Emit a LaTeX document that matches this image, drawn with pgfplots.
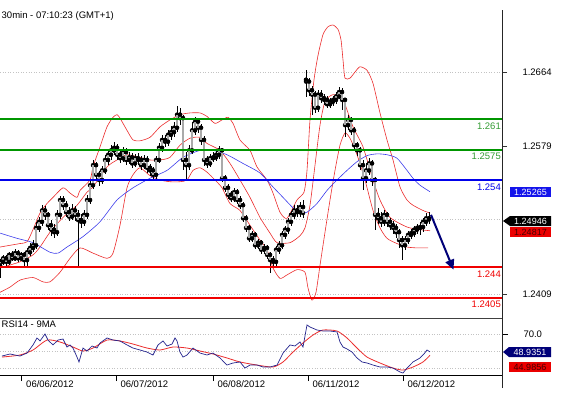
\documentclass[border=0pt]{standalone}
\usepackage{fontspec}
\setmainfont{Liberation Sans}
\usepackage{pgfplots}
\pgfplotsset{compat=1.18}
\usepackage{pgfplotstable}
\usetikzlibrary{arrows.meta}

\definecolor{lvlgreen}{RGB}{0,150,0}
\definecolor{lvltxtgreen}{RGB}{50,155,50}
\definecolor{lvlblue}{RGB}{0,0,235}
\definecolor{lvlred}{RGB}{240,0,0}
\definecolor{bandred}{RGB}{235,45,45}
\definecolor{mablue}{RGB}{60,60,235}
\definecolor{navy}{RGB}{0,0,120}
\definecolor{rsiblue}{RGB}{35,35,140}
\definecolor{barfill}{RGB}{170,170,170}
\definecolor{gridgray}{RGB}{195,195,195}
\definecolor{boxblue}{RGB}{20,20,235}
\definecolor{boxred}{RGB}{235,0,0}
\definecolor{darkred}{RGB}{70,0,0}

\newcommand{\lbl}{\fontsize{9.5}{11}\selectfont}
\newcommand{\blbl}{\fontsize{9}{10}\selectfont}

\pgfplotstableread{
x o h l c
0 1.2442 1.2449 1.2427 1.2446
3 1.2446 1.2454 1.2442 1.2450
6 1.2450 1.2454 1.2441 1.2446
9 1.2446 1.2457 1.2442 1.2454
12 1.2454 1.2458 1.2447 1.2450
15 1.2450 1.2461 1.2447 1.2456
18 1.2456 1.2460 1.2446 1.2450
21 1.2450 1.2457 1.2447 1.2454
24 1.2454 1.2457 1.2439 1.2448
27 1.2448 1.2462 1.2439 1.2457
30 1.2457 1.2468 1.2453 1.2462
33 1.2462 1.2471 1.2457 1.2465
36 1.2465 1.2492 1.2461 1.2485
39 1.2485 1.2498 1.2480 1.2492
42 1.2492 1.2511 1.2487 1.2505
45 1.2505 1.2510 1.2494 1.2500
48 1.2500 1.2503 1.2483 1.2488
51 1.2488 1.2494 1.2476 1.2483
54 1.2483 1.2489 1.2473 1.2480
57 1.2480 1.2505 1.2476 1.2500
60 1.2500 1.2522 1.2495 1.2517
63 1.2517 1.2522 1.2505 1.2511
66 1.2511 1.2516 1.2498 1.2503
69 1.2503 1.2509 1.2493 1.2498
72 1.2498 1.2512 1.2494 1.2505
75 1.2505 1.2510 1.2493 1.2500
78 1.2500 1.2505 1.2439 1.2494
81 1.2494 1.2501 1.2485 1.2492
84 1.2492 1.2505 1.2487 1.2500
87 1.2500 1.2523 1.2495 1.2517
90 1.2517 1.2540 1.2512 1.2534
93 1.2534 1.2563 1.2530 1.2557
96 1.2557 1.2561 1.2540 1.2546
99 1.2546 1.2550 1.2533 1.2540
102 1.2540 1.2556 1.2535 1.2551
105 1.2551 1.2569 1.2547 1.2563
108 1.2563 1.2574 1.2557 1.2569
111 1.2569 1.2580 1.2563 1.2574
114 1.2574 1.2584 1.2569 1.2577
117 1.2577 1.2581 1.2563 1.2569
120 1.2569 1.2574 1.2559 1.2565
123 1.2565 1.2578 1.2561 1.2572
126 1.2572 1.2577 1.2557 1.2563
129 1.2563 1.2572 1.2558 1.2566
132 1.2566 1.2571 1.2554 1.2559
135 1.2559 1.2570 1.2555 1.2565
138 1.2565 1.2571 1.2557 1.2563
141 1.2563 1.2568 1.2551 1.2557
144 1.2557 1.2569 1.2553 1.2563
147 1.2563 1.2568 1.2548 1.2554
150 1.2554 1.2558 1.2545 1.2551
153 1.2551 1.2555 1.2540 1.2546
156 1.2546 1.2568 1.2541 1.2563
159 1.2563 1.2582 1.2559 1.2577
162 1.2577 1.2592 1.2572 1.2586
165 1.2586 1.2592 1.2578 1.2584
168 1.2584 1.2597 1.2579 1.2592
171 1.2592 1.2602 1.2586 1.2595
174 1.2595 1.2607 1.2589 1.2600
177 1.2600 1.2625 1.2595 1.2615
180 1.2615 1.2623 1.2603 1.2611
183 1.2611 1.2615 1.2551 1.2563
186 1.2563 1.2572 1.2540 1.2557
189 1.2557 1.2580 1.2551 1.2574
192 1.2574 1.2607 1.2570 1.2597
195 1.2597 1.2612 1.2592 1.2607
198 1.2607 1.2611 1.2594 1.2600
201 1.2600 1.2604 1.2580 1.2586
204 1.2586 1.2590 1.2556 1.2563
207 1.2563 1.2568 1.2554 1.2559
210 1.2559 1.2570 1.2555 1.2565
213 1.2565 1.2572 1.2561 1.2566
216 1.2566 1.2574 1.2562 1.2569
219 1.2569 1.2579 1.2564 1.2574
222 1.2574 1.2577 1.2538 1.2542
225 1.2542 1.2546 1.2526 1.2531
228 1.2531 1.2535 1.2518 1.2523
231 1.2523 1.2527 1.2515 1.2519
234 1.2519 1.2531 1.2515 1.2526
237 1.2526 1.2530 1.2512 1.2517
240 1.2517 1.2522 1.2507 1.2511
243 1.2511 1.2515 1.2492 1.2496
246 1.2496 1.2500 1.2480 1.2485
249 1.2485 1.2488 1.2469 1.2473
252 1.2473 1.2481 1.2469 1.2477
255 1.2477 1.2480 1.2461 1.2465
258 1.2465 1.2472 1.2461 1.2468
261 1.2468 1.2471 1.2455 1.2460
264 1.2460 1.2467 1.2455 1.2462
267 1.2462 1.2465 1.2449 1.2454
270 1.2454 1.2457 1.2433 1.2448
273 1.2448 1.2453 1.2439 1.2446
276 1.2446 1.2464 1.2441 1.2460
279 1.2460 1.2470 1.2455 1.2465
282 1.2465 1.2481 1.2461 1.2477
285 1.2477 1.2487 1.2472 1.2483
288 1.2483 1.2496 1.2478 1.2492
291 1.2492 1.2504 1.2487 1.2500
294 1.2500 1.2511 1.2495 1.2505
297 1.2505 1.2511 1.2497 1.2503
300 1.2503 1.2515 1.2498 1.2509
303 1.2509 1.2517 1.2496 1.2502
306 1.2655 1.2666 1.2635 1.2653
309 1.2653 1.2657 1.2636 1.2643
312 1.2643 1.2648 1.2615 1.2638
315 1.2638 1.2642 1.2617 1.2623
318 1.2623 1.2643 1.2618 1.2638
321 1.2638 1.2643 1.2628 1.2634
324 1.2634 1.2639 1.2626 1.2632
327 1.2632 1.2636 1.2623 1.2627
330 1.2627 1.2634 1.2623 1.2630
333 1.2630 1.2636 1.2625 1.2632
336 1.2632 1.2641 1.2627 1.2636
339 1.2636 1.2647 1.2633 1.2641
342 1.2641 1.2646 1.2620 1.2632
345 1.2632 1.2634 1.2589 1.2603
348 1.2603 1.2615 1.2597 1.2609
351 1.2609 1.2612 1.2592 1.2597
354 1.2597 1.2601 1.2574 1.2580
357 1.2580 1.2584 1.2568 1.2574
360 1.2574 1.2578 1.2551 1.2557
363 1.2557 1.2563 1.2528 1.2542
366 1.2542 1.2559 1.2536 1.2551
369 1.2551 1.2565 1.2546 1.2559
372 1.2559 1.2563 1.2533 1.2540
375 1.2540 1.2543 1.2483 1.2500
378 1.2500 1.2508 1.2489 1.2496
381 1.2496 1.2503 1.2486 1.2492
384 1.2492 1.2505 1.2487 1.2500
387 1.2500 1.2503 1.2486 1.2492
390 1.2492 1.2496 1.2483 1.2488
393 1.2488 1.2493 1.2478 1.2485
396 1.2485 1.2489 1.2473 1.2480
399 1.2480 1.2484 1.2462 1.2471
402 1.2471 1.2476 1.2448 1.2465
405 1.2465 1.2476 1.2460 1.2471
408 1.2471 1.2481 1.2467 1.2477
411 1.2477 1.2484 1.2472 1.2479
414 1.2479 1.2487 1.2475 1.2483
417 1.2483 1.2489 1.2478 1.2485
420 1.2485 1.2492 1.2477 1.2486
423 1.2486 1.2496 1.2480 1.2492
426 1.2492 1.2502 1.2487 1.2496
429 1.2496 1.2503 1.2489 1.24946
}\ohlc

\pgfplotstableread{
x y
0 1.2463
10 1.2465
20 1.2467
27 1.2469
33 1.2483
40 1.2502
47 1.2513
53 1.2520
63 1.2531
70 1.2525
77 1.2520
80 1.2528
90 1.2540
93 1.2555
100 1.2578
107 1.2601
113 1.2612
117 1.2615
120 1.2611
127 1.2597
133 1.2586
140 1.2585
150 1.2589
160 1.2601
170 1.2609
180 1.2615
190 1.2617
200 1.2617
207 1.2613
215 1.2605
222 1.2609
228 1.2612
233 1.2605
240 1.2586
250 1.2574
257 1.2555
267 1.2540
273 1.2525
280 1.2503
287 1.2496
297 1.2517
304 1.2526
307 1.2551
310 1.2609
314 1.2655
318 1.2683
323 1.2707
328 1.2716
333 1.2718
338 1.2713
341 1.2701
343 1.2678
345 1.2657
350 1.2657
355 1.2664
360 1.2670
367 1.2666
373 1.2651
380 1.2617
387 1.2586
393 1.2563
400 1.2532
407 1.2517
413 1.2511
423 1.2505
430 1.2502
}\upperband

\pgfplotstableread{
x y
0 1.2439
20 1.2446
33 1.2454
40 1.2463
50 1.2480
63 1.2497
77 1.2511
87 1.2526
93 1.2532
107 1.2555
117 1.2563
127 1.2569
140 1.2566
150 1.2563
160 1.2563
170 1.2566
180 1.2580
190 1.2588
200 1.2589
207 1.2582
220 1.2574
230 1.2559
240 1.2540
250 1.2520
260 1.2497
270 1.2479
277 1.2468
290 1.2468
300 1.2476
305 1.2485
310 1.2511
315 1.2557
320 1.2603
325 1.2630
333 1.2638
343 1.2632
353 1.2601
363 1.2578
373 1.2540
380 1.2517
390 1.2497
407 1.2486
420 1.2483
430 1.24817
}\midband

\pgfplotstableread{
x y
0 1.2411
10 1.2417
20 1.2425
33 1.2428
43 1.2423
50 1.2423
60 1.2434
70 1.2450
80 1.2462
93 1.2456
107 1.2450
113 1.2456
120 1.2488
127 1.2531
133 1.2546
140 1.2554
150 1.2545
160 1.2540
170 1.2538
180 1.2538
187 1.2540
193 1.2551
200 1.2554
207 1.2549
215 1.2540
222 1.2531
230 1.2513
240 1.2505
250 1.2488
260 1.2471
267 1.2460
273 1.2439
280 1.2427
287 1.2431
297 1.2437
305 1.2434
308 1.2416
312 1.2402
316 1.2411
320 1.2442
325 1.2480
330 1.2517
335 1.2551
340 1.2580
345 1.2594
350 1.2588
357 1.2569
365 1.2540
373 1.2505
380 1.2485
387 1.2473
397 1.2467
407 1.2463
417 1.2462
428 1.2462
}\lowerband

\pgfplotstableread{
x y
0 1.2479
17 1.2473
33 1.2468
50 1.2457
58 1.2456
67 1.2463
83 1.2475
100 1.2492
117 1.2517
133 1.2531
150 1.2542
167 1.2551
183 1.2566
200 1.2574
213 1.2574
227 1.2569
243 1.2559
260 1.2548
273 1.2532
283 1.2520
293 1.2508
300 1.2502
307 1.2503
317 1.2513
327 1.2528
337 1.2540
347 1.2551
357 1.2561
367 1.2568
377 1.2570
387 1.2569
397 1.2565
407 1.2551
413 1.2542
420 1.2534
430 1.25265
}\maline

\pgfplotstableread{
x y
2 44.1
10 46.5
20 44.1
27 47.6
33 57.1
37 65.3
40 61.8
45 70.0
48 62.9
53 57.1
58 62.9
63 64.1
67 54.7
70 57.1
73 53.5
77 42.9
79 37.1
83 53.5
87 50.0
92 55.9
97 53.5
100 59.4
107 65.3
113 62.9
120 61.8
127 57.1
133 53.5
140 51.2
147 48.8
153 45.3
158 57.1
163 61.8
167 55.9
172 58.2
175 65.3
177 61.8
180 48.8
183 42.9
187 45.3
193 53.5
200 47.6
207 45.3
213 47.6
220 41.8
227 33.5
233 35.9
240 37.1
245 30.0
250 33.5
257 33.5
263 31.2
270 31.2
277 33.5
283 47.6
290 57.1
295 55.9
300 60.6
303 54.7
307 80.6
310 78.2
317 74.7
323 73.5
330 73.5
337 72.4
340 60.6
343 54.7
347 52.4
352 48.8
357 41.8
362 37.1
367 35.9
373 33.5
380 31.2
387 31.2
393 30.0
400 25.3
403 24.1
407 30.0
413 37.1
420 41.8
424 46.5
427 51.2
430 48.94
}\rsi

\pgfplotstableread{
x y
2 42.9
20 45.3
33 51.2
47 62.9
60 60.6
73 54.7
83 50.0
93 53.5
107 62.9
120 61.8
133 58.2
147 53.5
160 51.2
173 54.7
187 53.5
200 50.0
213 46.5
227 41.8
240 37.1
257 33.5
273 31.2
283 37.1
293 48.8
303 59.4
313 68.8
323 74.7
337 73.5
347 65.3
357 53.5
367 42.9
380 35.9
393 30.0
403 27.6
413 31.2
423 37.1
430 44.99
}\rsima

\begin{document}
\begin{tikzpicture}
\useasboundingbox (0pt,0pt) rectangle (563pt,392pt);

% ---------------- main price panel ----------------
\begin{axis}[
  at={(0pt,74pt)}, anchor=south west,
  width=502pt, height=318pt, scale only axis,
  xmin=0, xmax=502, ymin=1.23815, ymax=1.27467,
  axis x line=none, axis y line*=right,
  y axis line style={draw=none},
  ytick={1.2409,1.2579,1.2664},
  scaled y ticks=false,
  yticklabel style={font=\lbl, black, xshift=12pt, /pgf/number format/fixed, /pgf/number format/fixed zerofill, /pgf/number format/precision=4, /pgf/number format/assume math mode=true},
  tick align=outside, major tick length=5pt,
  tick style={black!80, line width=0.6pt},
  clip mode=individual,
]
% dotted grid
\addplot[gridgray, dotted, line width=0.6pt] coordinates {(0,1.2664) (502,1.2664)};
\addplot[gridgray, dotted, line width=0.6pt] coordinates {(0,1.2409) (502,1.2409)};
\addplot[gridgray, dotted, line width=0.6pt] coordinates {(0,1.24946) (502,1.24946)};
% bollinger bands and moving average
\addplot[bandred, line width=0.6pt, smooth, tension=0.4] table[x=x,y=y] {\upperband};
\addplot[bandred, line width=0.6pt, smooth, tension=0.4] table[x=x,y=y] {\midband};
\addplot[bandred, line width=0.6pt, smooth, tension=0.4] table[x=x,y=y] {\lowerband};
\addplot[mablue, line width=0.6pt, smooth, tension=0.4] table[x=x,y=y] {\maline};
% price bars: wicks
\addplot[only marks, mark=none, error bars/.cd, y dir=both, y explicit, error mark=none,
  error bar style={black, line width=0.5pt}]
  table[x=x, y=c, y error plus expr=\thisrow{h}-\thisrow{c}, y error minus expr=\thisrow{c}-\thisrow{l}] {\ohlc};
% bodies
\addplot[only marks, mark=none, error bars/.cd, y dir=plus, y explicit, error mark=none,
  error bar style={black!80, line width=2.6pt}]
  table[x=x, y=o, y error plus expr=\thisrow{c}-\thisrow{o}] {\ohlc};
\addplot[only marks, mark=none, error bars/.cd, y dir=plus, y explicit, error mark=none,
  error bar style={barfill, line width=1.8pt}]
  table[x=x, y=o, y error plus expr=\thisrow{c}-\thisrow{o}] {\ohlc};
% level lines
\draw[lvlgreen, line width=2pt] (axis cs:0,1.261) -- (axis cs:502,1.261);
\draw[lvlgreen, line width=2pt] (axis cs:0,1.2575) -- (axis cs:502,1.2575);
\draw[lvlblue, line width=2pt] (axis cs:0,1.254) -- (axis cs:502,1.254);
\draw[lvlred, line width=2pt] (axis cs:0,1.244) -- (axis cs:502,1.244);
\draw[lvlred, line width=2pt] (axis cs:0,1.2405) -- (axis cs:502,1.2405);
% forecast arrow
\addplot[navy, line width=2pt, -{Triangle[length=10pt,width=9pt]}] coordinates {(431,1.2500) (453.5,1.2437)};
% level labels
\node[anchor=north east, inner sep=0pt, text=lvltxtgreen, font=\lbl] at (axis cs:501,1.261) [yshift=-3.2pt] {1.261};
\node[anchor=north east, inner sep=0pt, text=lvltxtgreen, font=\lbl] at (axis cs:501,1.2575) [yshift=-3.2pt] {1.2575};
\node[anchor=north east, inner sep=0pt, text=lvlblue, font=\lbl] at (axis cs:501,1.254) [yshift=-3.2pt] {1.254};
\node[anchor=north east, inner sep=0pt, text=lvlred, font=\lbl] at (axis cs:501,1.244) [yshift=-3.2pt] {1.244};
\node[anchor=north east, inner sep=0pt, text=lvlred, font=\lbl] at (axis cs:501,1.2405) [yshift=-3.2pt] {1.2405};
\end{axis}

% ---------------- RSI panel ----------------
\begin{axis}[
  at={(0pt,17pt)}, anchor=south west,
  width=502pt, height=57pt, scale only axis,
  xmin=0, xmax=502, ymin=21.8, ymax=88.8,
  axis x line*=bottom, axis y line*=right,
  axis line style={draw=none},
  ytick={70},
  yticklabel style={font=\lbl, black, xshift=12pt, /pgf/number format/fixed, /pgf/number format/fixed zerofill, /pgf/number format/precision=1, /pgf/number format/assume math mode=true},
  xtick={21.7,116,213,308,403},
  xticklabels={06/06/2012,06/07/2012,06/08/2012,06/11/2012,06/12/2012},
  xticklabel style={font=\lbl, black, anchor=north west, xshift=1pt, yshift=4pt},
  tick align=outside, major tick length=6pt,
  tick style={black, line width=0.6pt},
  clip mode=individual,
]
\addplot[gridgray, dotted, line width=0.6pt] coordinates {(0,70) (502,70)};
\addplot[gridgray, dotted, line width=0.6pt] coordinates {(0,50) (502,50)};
\addplot[gridgray, dotted, line width=0.6pt] coordinates {(0,30) (502,30)};
\addplot[bandred, line width=0.8pt, smooth, tension=0.4] table[x=x,y=y] {\rsima};
\addplot[rsiblue, line width=0.7pt] table[x=x,y=y] {\rsi};
\end{axis}

% frame lines
\draw[black!75, line width=1pt] (0pt,74pt) -- (502pt,74pt);
\draw[black, line width=0.8pt] (0pt,17pt) -- (502pt,17pt);
\draw[black!85, line width=0.8pt] (502pt,4pt) -- (502pt,382pt);

% titles
\node[anchor=west, inner sep=0pt, font=\lbl] at (1.5pt,376pt) {30min - 07:10:23 (GMT+1)};
\node[anchor=west, inner sep=0pt, font=\lbl] at (1.5pt,67.5pt) {RSI14 - 9MA};

% value boxes on the right
\fill[boxblue] (510pt,195pt) rectangle (551pt,205pt);
\node[text=white, font=\blbl, inner sep=0pt] at (530.5pt,200pt) {1.25265};
\fill[black] (503pt,171pt) -- (510pt,176pt) -- (551pt,176pt) -- (551pt,166pt) -- (510pt,166pt) -- cycle;
\node[text=white, font=\blbl, inner sep=0pt] at (530.5pt,171pt) {1.24946};
\fill[boxred] (510pt,155pt) rectangle (551pt,165pt);
\node[text=darkred, font=\blbl, inner sep=0pt] at (530.5pt,160pt) {1.24817};
\fill[navy] (503pt,40pt) -- (509pt,45pt) -- (551pt,45pt) -- (551pt,35pt) -- (509pt,35pt) -- cycle;
\node[text=white, font=\blbl, inner sep=0pt] at (530pt,40pt) {48.9351};
\fill[boxred] (509pt,20pt) rectangle (551pt,30pt);
\node[text=darkred, font=\blbl, inner sep=0pt] at (530pt,25pt) {44.9856};
\end{tikzpicture}
\end{document}
